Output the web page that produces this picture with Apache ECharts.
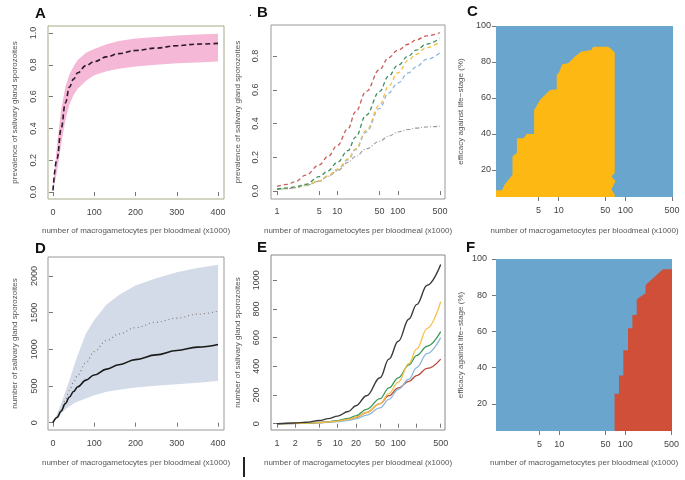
<!DOCTYPE html>
<html>
<head>
<meta charset="utf-8">
<script src="https://cdn.jsdelivr.net/npm/echarts@6.0.0/dist/echarts.min.js"></script>
<style>
  html, body { margin: 0; padding: 0; background: #fff; }
  #chart { width: 685px; height: 480px; }
</style>
</head>
<body>
<div id="chart"></div>
<script>
// A: prevalence vs gametocytes (linear)
const aX = [0, 10, 20, 30, 40, 50, 60, 80, 100, 130, 160, 200, 250, 300, 350, 400];
const aMean = [0.01, 0.21, 0.40, 0.56, 0.66, 0.71, 0.75, 0.795, 0.82, 0.85, 0.87, 0.89, 0.905, 0.92, 0.93, 0.935];
const aUpper = [0.02, 0.30, 0.52, 0.66, 0.74, 0.79, 0.83, 0.875, 0.90, 0.93, 0.95, 0.965, 0.975, 0.985, 0.99, 0.995];
const aLower = [0.0, 0.13, 0.30, 0.45, 0.55, 0.61, 0.65, 0.70, 0.735, 0.76, 0.775, 0.79, 0.80, 0.81, 0.815, 0.82];

// B: prevalence by scenario (log x)
const bX = [1, 1.5, 2, 3, 5, 7, 10, 15, 20, 30, 50, 70, 100, 150, 200, 300, 500];
const bRed = [0.028, 0.04, 0.055, 0.095, 0.155, 0.205, 0.27, 0.37, 0.47, 0.59, 0.72, 0.79, 0.835, 0.87, 0.895, 0.92, 0.938];
const bGreen = [0.012, 0.018, 0.025, 0.04, 0.085, 0.12, 0.17, 0.24, 0.32, 0.45, 0.59, 0.68, 0.745, 0.80, 0.835, 0.87, 0.905];
const bYellow = [0.012, 0.016, 0.022, 0.035, 0.06, 0.09, 0.13, 0.19, 0.25, 0.36, 0.51, 0.62, 0.70, 0.775, 0.81, 0.85, 0.885];
const bBlue = [0.01, 0.015, 0.02, 0.033, 0.058, 0.088, 0.125, 0.185, 0.245, 0.35, 0.49, 0.58, 0.64, 0.70, 0.735, 0.78, 0.82];
const bGray = [0.01, 0.015, 0.02, 0.033, 0.058, 0.088, 0.12, 0.17, 0.205, 0.25, 0.295, 0.325, 0.35, 0.365, 0.373, 0.38, 0.385];

// C: region where one life-stage wins (boundary of yellow area)
const cBoundX = [1, 1, 1.41, 1.55, 2.03, 2.03, 2.36, 2.36, 2.96, 3.32, 4.28, 4.28, 4.69, 5.26, 5.9, 7.43, 9.34, 9.34, 10.1, 11.3, 13.9, 17.5, 22, 31.1, 32.9, 55.1, 61.8, 69.3, 69.3, 61.8, 71, 61.8, 69.3, 69.3];
const cBoundY = [5, 8.7, 8.7, 11.9, 17.4, 27.6, 29.4, 37.7, 37.7, 40, 40, 53.4, 55.7, 59, 60.8, 64.5, 64.9, 72.8, 74.1, 78.8, 79.3, 83, 85.8, 86.7, 88.5, 88.5, 87.1, 85.2, 18.3, 16.5, 13.7, 9.1, 6.3, 5];

// D: sporozoite load (linear)
const dX = [0, 10, 20, 30, 40, 50, 60, 80, 100, 130, 160, 200, 250, 300, 350, 400];
const dSolid = [0, 70, 160, 260, 350, 425, 490, 580, 650, 730, 790, 860, 925, 985, 1030, 1066];
const dDotted = [0, 70, 180, 310, 440, 550, 650, 820, 970, 1120, 1210, 1295, 1370, 1425, 1480, 1520];
const dUpper = [0, 120, 260, 420, 580, 760, 920, 1215, 1400, 1610, 1740, 1870, 1970, 2050, 2110, 2155];
const dLower = [0, 60, 120, 180, 225, 260, 290, 330, 375, 420, 450, 480, 505, 525, 545, 567];

// E: sporozoite load by scenario (log x)
const eX = [1, 2, 3, 5, 7, 10, 15, 20, 30, 50, 70, 100, 150, 200, 300, 500];
const eBlack = [0, 5, 10, 22, 35, 53, 85, 125, 195, 320, 450, 575, 730, 830, 965, 1110];
const eYellow = [0, 2, 4, 8, 12, 18, 30, 45, 78, 140, 210, 290, 420, 520, 665, 850];
const eGreen = [0, 2, 4, 9, 14, 22, 37, 55, 100, 175, 250, 320, 410, 475, 540, 642];
const eBlue = [0, 1, 2, 5, 9, 14, 23, 33, 60, 110, 170, 240, 310, 390, 490, 600];
const eRed = [0, 2, 4, 8, 12, 19, 30, 42, 78, 140, 195, 250, 295, 335, 385, 450];

// F: region (red area boundary)
const fBoundX = [68.8, 68.8, 80.2, 80.2, 93.3, 93.3, 110, 110, 128, 128, 149, 149, 203, 203, 372, 600, 600];
const fBoundY = [5, 25.6, 25.6, 35.7, 35.7, 49.6, 49.6, 61.7, 61.7, 69.1, 69.1, 77.8, 81.1, 85.7, 94.4, 94.4, 5];

// tick labels
const linTicksX = [0, 100, 200, 300, 400];
const aTicksY = [0, 0.2, 0.4, 0.6, 0.8, 1.0];
const bTicksY = [0, 0.2, 0.4, 0.6, 0.8];
const dTicksY = [0, 500, 1000, 1500, 2000];
const eTicksY = [0, 200, 400, 600, 800, 1000];
const effTicksY = [20, 40, 60, 80, 100];
const bTicksX = [1, 5, 10, 50, 100, 500];
const eTickMarksX = [1, 2, 5, 10, 20, 50, 100, 200, 500];
const eLabelsX = [1, 2, 5, 10, 20, 50, 100, 500];
const heatTicksX = [5, 10, 50, 100, 500];

const X_NAME = 'number of macrogametocytes per bloodmeal (x1000)';
const FONT = 'Liberation Sans';
const lg = v => Math.log10(v);
const pairs = (xs, ys) => xs.map((x, i) => [x, ys[i]]);
const logPairs = (xs, ys) => xs.map((x, i) => [lg(x), ys[i]]);
const logFmt = v => String(Math.round(Math.pow(10, v)));
const plain = v => String(v);

function grid(left, top, width, height, border, bg) {
    return {
        left, top, width, height, show: true, containLabel: false, outerBoundsMode: 'none',
        borderColor: border || 'transparent', borderWidth: border ? 1 : 0,
        backgroundColor: bg || 'transparent'
    };
}

function xAxis(gi, o) {
    return {
        type: 'value', gridIndex: gi, min: o.min, max: o.max,
        name: X_NAME, nameLocation: 'middle', nameGap: o.nameGap,
        nameTextStyle: { fontSize: 8, color: '#555', fontFamily: FONT },
        axisLine: { show: false }, splitLine: { show: false },
        axisTick: { show: true, length: 4, lineStyle: { color: '#777' }, customValues: o.ticks },
        axisLabel: { customValues: o.labels || o.ticks, formatter: o.fmt || plain, fontSize: 9, color: '#444', margin: o.margin, fontFamily: FONT }
    };
}

function yAxis(gi, o) {
    return {
        type: 'value', gridIndex: gi, min: o.min, max: o.max,
        name: o.name, nameLocation: 'middle', nameGap: o.nameGap, nameRotate: 90,
        nameTextStyle: { fontSize: 8, color: '#555', fontFamily: FONT },
        axisLine: { show: false }, splitLine: { show: false },
        axisTick: { show: true, length: 4, lineStyle: { color: '#777' }, customValues: o.ticks },
        axisLabel: { customValues: o.ticks, formatter: o.fmt || plain, rotate: o.rotate, fontSize: 9, color: '#444', margin: o.margin, fontFamily: FONT }
    };
}

function line(gi, data, color, width, type) {
    return {
        type: 'line', xAxisIndex: gi, yAxisIndex: gi, data, showSymbol: false,
        smooth: 0.4, smoothMonotone: 'x',
        lineStyle: { color, width, type }
    };
}

// shaded interval between lower and upper curves
function band(gi, xs, lo, hi, color) {
    return {
        type: 'custom', xAxisIndex: gi, yAxisIndex: gi, clip: true,
        data: pairs(xs, hi),
        renderItem: function (params, api) {
            if (params.dataIndex !== 0) return null;
            const top = xs.map((x, i) => api.coord([x, hi[i]]));
            const bot = xs.map((x, i) => api.coord([x, lo[i]])).reverse();
            return { type: 'polygon', shape: { points: top.concat(bot) }, style: { fill: color } };
        }
    };
}

function region(gi, xs, ys, color) {
    return {
        type: 'custom', xAxisIndex: gi, yAxisIndex: gi, clip: true,
        data: logPairs(xs, ys),
        renderItem: function (params, api) {
            if (params.dataIndex !== 0) return null;
            const pts = xs.map((x, i) => api.coord([lg(x), ys[i]]));
            return { type: 'polygon', shape: { points: pts }, style: { fill: color } };
        }
    };
}

const chart = echarts.init(document.getElementById('chart'), null, { renderer: 'canvas' });

const letter = (t, left, top) => ({ type: 'text', left, top, style: { text: t, font: 'bold 15px Liberation Sans', fill: '#111' } });

chart.setOption({
    animation: false,
    backgroundColor: '#fff',
    textStyle: { fontFamily: FONT },
    grid: [
        grid(48, 26, 176, 173, '#a9a985'),
        grid(271, 25, 174, 174, '#999'),
        grid(496, 26, 177, 171, null, '#6aa5cd'),
        grid(48, 257, 176, 173, '#999'),
        grid(271, 255, 174, 175, '#888'),
        grid(496, 259, 176, 172, null, '#6aa5cd')
    ],
    xAxis: [
        xAxis(0, { min: -12, max: 414.5, ticks: linTicksX, margin: 9, nameGap: 28 }),
        xAxis(1, { min: -0.099, max: 2.782, ticks: bTicksX.map(lg), fmt: logFmt, margin: 8, nameGap: 28 }),
        xAxis(2, { min: 0.06, max: 2.714, ticks: heatTicksX.map(lg), fmt: logFmt, margin: 9, nameGap: 30 }),
        xAxis(3, { min: -12, max: 414.5, ticks: linTicksX, margin: 9, nameGap: 29 }),
        xAxis(4, { min: -0.099, max: 2.77, ticks: eTickMarksX.map(lg), labels: eLabelsX.map(lg), fmt: logFmt, margin: 9, nameGap: 29 }),
        xAxis(5, { min: 0.04, max: 2.708, ticks: heatTicksX.map(lg), fmt: logFmt, margin: 9, nameGap: 28 })
    ],
    yAxis: [
        yAxis(0, { min: -0.044, max: 1.044, ticks: aTicksY, fmt: v => v.toFixed(1), rotate: 90, margin: 10,
                   name: 'prevalence of salivary gland sporozoites', nameGap: 29 }),
        yAxis(1, { min: -0.047, max: 0.984, ticks: bTicksY, fmt: v => v.toFixed(1), rotate: 90, margin: 11,
                   name: 'prevalence of salivary gland sporozoites', nameGap: 29 }),
        yAxis(2, { min: 5, max: 100, ticks: effTicksY, rotate: 0, margin: 5,
                   name: 'efficacy against life\u2212stage (%)', nameGap: 31 }),
        yAxis(3, { min: -100, max: 2259, ticks: dTicksY, rotate: 90, margin: 9,
                   name: 'number of salivary gland sporozoites', nameGap: 29 }),
        yAxis(4, { min: -44, max: 1176, ticks: eTicksY, rotate: 90, margin: 10,
                   name: 'number of salivary gland sporozoites', nameGap: 29 }),
        yAxis(5, { min: 5, max: 100, ticks: effTicksY, rotate: 0, margin: 9,
                   name: 'efficacy against life\u2212stage (%)', nameGap: 31 })
    ],
    series: [
        band(0, aX, aLower, aUpper, '#f5b8d6'),
        line(0, pairs(aX, aMean), '#2a1a26', 1.6, [5, 3]),

        line(1, logPairs(bX, bGray), '#999', 1.1, [1, 2, 4, 2]),
        line(1, logPairs(bX, bBlue), '#8fb5dc', 1.3, [4, 3]),
        line(1, logPairs(bX, bYellow), '#f0c04a', 1.3, [4, 3]),
        line(1, logPairs(bX, bGreen), '#3b9162', 1.3, [4, 3]),
        line(1, logPairs(bX, bRed), '#c95a55', 1.3, [4, 3]),

        region(2, cBoundX, cBoundY, '#fdb813'),

        band(3, dX, dLower, dUpper, '#d3dbe8'),
        line(3, pairs(dX, dDotted), '#857a7a', 1.2, [1, 3]),
        line(3, pairs(dX, dSolid), '#1a1a1a', 1.6, 'solid'),

        line(4, logPairs(eX, eRed), '#b54a3c', 1.3, 'solid'),
        line(4, logPairs(eX, eBlue), '#8fb8dc', 1.3, 'solid'),
        line(4, logPairs(eX, eGreen), '#3d9a5c', 1.3, 'solid'),
        line(4, logPairs(eX, eYellow), '#f6c04a', 1.3, 'solid'),
        line(4, logPairs(eX, eBlack), '#3a3a3a', 1.4, 'solid'),

        region(5, fBoundX, fBoundY, '#cf4f38')
    ],
    graphic: [
        letter('A', 35, 6),
        letter('B', 257, 5),
        letter('C', 467, 4),
        letter('D', 35, 241),
        letter('E', 257, 240),
        letter('F', 466, 240),
        { type: 'text', left: 249, top: 8, style: { text: '.', font: '10px Liberation Sans', fill: '#333' } },
        { type: 'line', shape: { x1: 244, y1: 457, x2: 244, y2: 477 }, style: { stroke: '#222', lineWidth: 2 } }
    ]
});
</script>
</body>
</html>
